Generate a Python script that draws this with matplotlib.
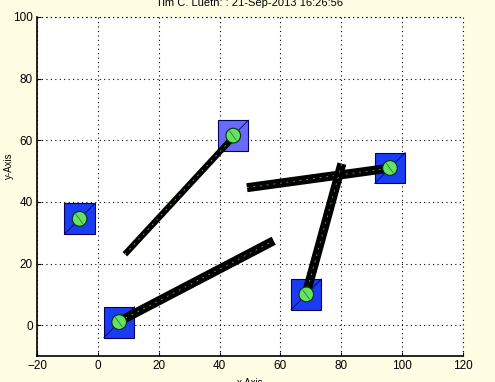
import numpy as np
import matplotlib.pyplot as plt
from matplotlib.patches import Rectangle, Circle

# links (start x, start y, end x, end y)
link_x0 = [7.2, 8.9, 49.0, 68.4]
link_y0 = [1.3, 23.0, 44.6, 10.0]
link_x1 = [57.8, 44.7, 96.3, 80.2]
link_y1 = [27.4, 61.2, 51.0, 52.4]
link_w = [6.5, 4.5, 6.5, 6.5]

# joints
joint_x = [-6.0, 7.0, 44.5, 68.5, 96.0]
joint_y = [34.5, 1.0, 61.5, 10.0, 51.0]
box_col = ['#1a3cf5', '#1a3cf5', '#6a6af8', '#1a3cf5', '#1a3cf5']

xticks = [-20, 0, 20, 40, 60, 80, 100, 120]
yticks = [0, 20, 40, 60, 80, 100]

plt.rcParams['font.family'] = ['Liberation Sans', 'DejaVu Sans']
fig = plt.figure(figsize=(4.95, 3.82), dpi=100, facecolor='#fffee4')
ax = fig.add_axes([0.0747, 0.068, 0.8606, 0.8877])
ax.set_facecolor('white')

for i in range(len(joint_x)):
    ax.add_patch(Rectangle((joint_x[i] - 5, joint_y[i] - 5), 10, 10, facecolor=box_col[i],
                           edgecolor='#000060', lw=0.8, zorder=3))
    ax.plot([joint_x[i] - 5, joint_x[i] + 5], [joint_y[i] - 5, joint_y[i] + 5],
            color='#000060', lw=0.6, zorder=3)

for i in range(len(link_x0)):
    ax.plot([link_x0[i], link_x1[i]], [link_y0[i], link_y1[i]], color='black',
            lw=link_w[i], solid_capstyle='butt', zorder=4)
    ax.plot([link_x0[i], link_x1[i]], [link_y0[i], link_y1[i]], color='#4fd04f',
            lw=0.6, ls=(0, (2, 6)), zorder=4)

for i in range(len(joint_x)):
    ax.add_patch(Circle((joint_x[i], joint_y[i]), 2.4, facecolor='#66e066',
                        edgecolor='#003300', lw=0.8, zorder=5))
    ax.plot([joint_x[i] - 1.2, joint_x[i] + 1.0], [joint_y[i] + 1.5, joint_y[i] - 1.5],
            color='#207020', lw=0.5, zorder=6)

ax.set_xlim(-20, 120)
ax.set_ylim(-10, 100)
ax.set_xticks(xticks)
ax.set_yticks(yticks)
ax.grid(True, color='black', ls=(0, (1, 3)), lw=0.8)
ax.spines['top'].set_visible(False)
ax.spines['right'].set_visible(False)
ax.spines['left'].set_linewidth(1.2)
ax.spines['bottom'].set_linewidth(1.2)
ax.plot([-20, 120], [100, 100], color='black', ls=(0, (1, 3)), lw=0.8, clip_on=False)
ax.plot([120, 120], [-10, 100], color='black', ls=(0, (1, 3)), lw=0.8, clip_on=False)
ax.tick_params(direction='in', length=3, labelsize=8.5, pad=3)

ax.set_xlabel('x-Axis', fontsize=7, labelpad=4)
ax.set_ylabel('y-Axis', fontsize=7)
ax.yaxis.set_label_coords(-0.055, 0.56)
ax.set_title('Tim C. Lueth: : 21-Sep-2013 16:26:56', fontsize=8, pad=8)

fig.savefig('out.png', dpi=100, facecolor=fig.get_facecolor())
